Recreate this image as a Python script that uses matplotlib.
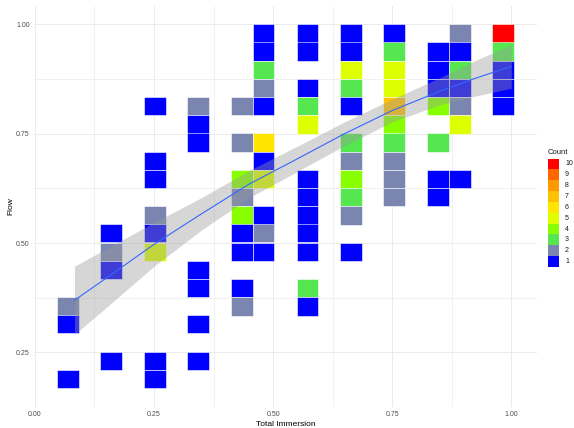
import matplotlib
matplotlib.use("Agg")
import matplotlib.pyplot as plt
from matplotlib.patches import Rectangle

# 2d bins: centre of each tile and how many responses fell in it
bin_w = 0.0457
bin_h = 0.0416

tile_x = [0.069, 0.069, 0.069,
          0.160, 0.160, 0.160, 0.160,
          0.252, 0.252, 0.252, 0.252, 0.252, 0.252, 0.252, 0.252,
          0.343, 0.343, 0.343, 0.343, 0.343, 0.343, 0.343,
          0.435, 0.435, 0.435, 0.435, 0.435, 0.435, 0.435, 0.435, 0.435,
          0.480, 0.480, 0.480, 0.480, 0.480, 0.480, 0.480, 0.480, 0.480, 0.480, 0.480,
          0.572, 0.572, 0.572, 0.572, 0.572, 0.572, 0.572, 0.572, 0.572, 0.572, 0.572, 0.572,
          0.663, 0.663, 0.663, 0.663, 0.663, 0.663, 0.663, 0.663, 0.663, 0.663, 0.663,
          0.754, 0.754, 0.754, 0.754, 0.754, 0.754, 0.754, 0.754, 0.754, 0.754,
          0.846, 0.846, 0.846, 0.846, 0.846, 0.846, 0.846,
          0.892, 0.892, 0.892, 0.892, 0.892, 0.892, 0.892,
          0.983, 0.983, 0.983, 0.983, 0.983]
tile_y = [0.355, 0.314, 0.189,
          0.522, 0.480, 0.438, 0.230,
          0.813, 0.688, 0.646, 0.563, 0.522, 0.480, 0.230, 0.189,
          0.813, 0.771, 0.730, 0.438, 0.397, 0.314, 0.230,
          0.813, 0.730, 0.646, 0.605, 0.563, 0.522, 0.480, 0.397, 0.355,
          0.979, 0.938, 0.896, 0.854, 0.813, 0.730, 0.688, 0.646, 0.563, 0.522, 0.480,
          0.979, 0.938, 0.854, 0.813, 0.771, 0.646, 0.605, 0.563, 0.522, 0.480, 0.397, 0.355,
          0.979, 0.938, 0.896, 0.854, 0.813, 0.730, 0.688, 0.646, 0.605, 0.563, 0.480,
          0.979, 0.938, 0.896, 0.854, 0.813, 0.771, 0.730, 0.688, 0.646, 0.605,
          0.938, 0.896, 0.854, 0.813, 0.730, 0.646, 0.605,
          0.979, 0.938, 0.896, 0.854, 0.813, 0.771, 0.646,
          0.979, 0.938, 0.896, 0.854, 0.813]
tile_count = [2, 1, 1,
              1, 2, 1, 1,
              1, 1, 1, 2, 1, 5, 1, 1,
              2, 1, 1, 1, 1, 1, 1,
              2, 2, 4, 2, 4, 1, 1, 1, 2,
              1, 1, 3, 2, 1, 6, 1, 5, 1, 2, 1,
              1, 1, 1, 3, 5, 1, 1, 1, 1, 1, 3, 1,
              1, 1, 5, 3, 1, 3, 2, 4, 3, 2, 1,
              1, 3, 5, 5, 7, 4, 3, 2, 2, 2,
              1, 1, 1, 4, 3, 1, 1,
              2, 1, 3, 1, 2, 5, 1,
              10, 3, 1, 1, 1]

count_levels = [1, 2, 3, 4, 5, 6, 7, 8, 9, 10]
count_colors = ["#0000FF", "#7A86AF", "#55E650", "#88FF00", "#DDFF00",
                "#FFE500", "#FFC200", "#FF9900", "#FF6600", "#FF0000"]

# loess fit of Flow on Total Immersion with its 95% band
smooth_x = [0.083, 0.15, 0.25, 0.35, 0.45, 0.55, 0.65, 0.75, 0.85, 0.92, 1.0]
smooth_fit = [0.369, 0.420, 0.497, 0.567, 0.635, 0.692, 0.750, 0.803, 0.847, 0.875, 0.904]
smooth_se = [0.078, 0.067, 0.050, 0.037, 0.031, 0.029, 0.027, 0.026, 0.031, 0.040, 0.050]

W, H = 574, 428


def draw_legend(fig):
    # discrete colour key, 10 on top, keys stacked with no gap
    lax = fig.add_axes([548 / W, 1 - 267 / H, 11 / W, 108.5 / H])
    lax.set_xlim(0, 1)
    lax.set_ylim(0.5, len(count_levels) + 0.5)
    lax.axis("off")
    for lvl, col in zip(count_levels, count_colors):
        lax.add_patch(Rectangle((0, lvl - 0.5), 1, 1, facecolor=col, edgecolor="none"))
        lax.text(1.55, lvl, str(lvl), fontsize=5, color="#1A1A1A", va="center", ha="left")
    fig.text(548 / W, 1 - 152 / H, "Count", fontsize=5.5, color="#1A1A1A",
             ha="left", va="center")


def main():
    plt.rcParams['font.family'] = ['Liberation Sans', 'DejaVu Sans']
    fig = plt.figure(figsize=(W / 100, H / 100), dpi=100)
    ax = fig.add_axes([34 / W, 21 / H, 503 / W, 401 / H])

    cmap = dict(zip(count_levels, count_colors))
    for x, y, c in zip(tile_x, tile_y, tile_count):
        ax.add_patch(Rectangle((x - bin_w / 2, y - bin_h / 2), bin_w, bin_h,
                               facecolor=cmap[c], edgecolor="white", linewidth=0.4, zorder=2))

    lo = [f - s for f, s in zip(smooth_fit, smooth_se)]
    hi = [f + s for f, s in zip(smooth_fit, smooth_se)]
    ax.fill_between(smooth_x, lo, hi, color="#999999", alpha=0.4, linewidth=0, zorder=3)
    ax.plot(smooth_x, smooth_fit, color="#3366FF", linewidth=0.8, zorder=4)

    ax.set_xlim(-0.002, 1.054)
    ax.set_ylim(0.126, 1.042)
    ax.set_xticks([0.0, 0.25, 0.5, 0.75, 1.0])
    ax.set_xticklabels(["0.00", "0.25", "0.50", "0.75", "1.00"])
    ax.set_yticks([0.25, 0.5, 0.75, 1.0])
    ax.set_yticklabels(["0.25", "0.50", "0.75", "1.00"])
    ax.set_xticks([0.125, 0.375, 0.625, 0.875], minor=True)
    ax.set_yticks([0.125, 0.375, 0.625, 0.875], minor=True)
    ax.tick_params(which="both", length=0, labelsize=5, labelcolor="#4D4D4D", pad=3)
    ax.grid(True, which="major", color="#EBEBEB", linewidth=0.7, zorder=0)
    ax.grid(True, which="minor", color="#EBEBEB", linewidth=0.5, zorder=0)
    ax.set_axisbelow(True)
    for sp in ax.spines.values():
        sp.set_visible(False)

    ax.set_xlabel("Total Immersion", fontsize=6, labelpad=2)
    ax.set_ylabel("Flow", fontsize=6, labelpad=1.5)

    draw_legend(fig)

    fig.savefig("out.png", dpi=100)


if __name__ == "__main__":
    main()
